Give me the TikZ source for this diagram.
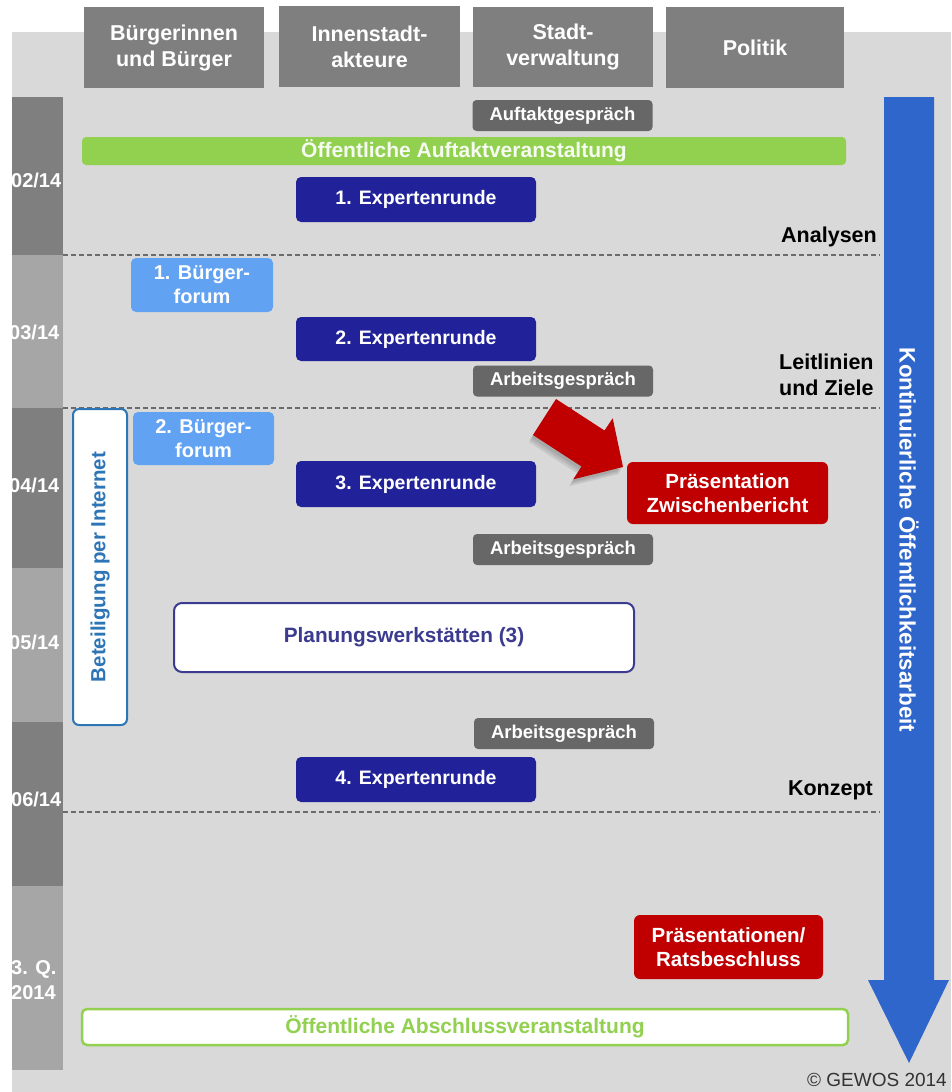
\documentclass[tikz,border=0pt]{standalone}
\usepackage{fontspec}
\setmainfont{Liberation Sans}
\usepackage{tikz}

\definecolor{panelgray}{HTML}{D9D9D9}
\definecolor{headgray}{HTML}{7F7F7F}
\definecolor{monthlight}{HTML}{A6A6A6}
\definecolor{talkgray}{HTML}{676767}
\definecolor{navy}{HTML}{21219A}
\definecolor{forumblue}{HTML}{62A2F2}
\definecolor{darkred}{HTML}{C00000}
\definecolor{arrowblue}{HTML}{2F66CC}
\definecolor{lgreen}{HTML}{92D050}
\definecolor{netblue}{HTML}{2E75B6}
\definecolor{planblue}{HTML}{3B3B8F}

\begin{document}
\begin{tikzpicture}[x=1pt,y=-1pt,inner sep=0pt,
  headbox/.style={rectangle,fill=headgray,text=white,align=center,font=\fontsize{21.5}{26}\selectfont\bfseries},
  talk/.style={rectangle,rounded corners=4pt,fill=talkgray,text=white,minimum width=180pt,minimum height=31pt,font=\fontsize{18.5}{20}\selectfont\bfseries},
  expert/.style={rectangle,rounded corners=5pt,fill=navy,text=white,minimum width=240pt,font=\fontsize{19.5}{22}\selectfont\bfseries},
  forum/.style={rectangle,rounded corners=5pt,fill=forumblue,text=white,align=center,font=\fontsize{20}{24}\selectfont\bfseries},
  redbox/.style={rectangle,rounded corners=6pt,fill=darkred,text=white,align=center,font=\fontsize{20.5}{24}\selectfont\bfseries},
  month/.style={anchor=west,text=white,align=left,font=\fontsize{20}{25}\selectfont\bfseries},
  phase/.style={text=black,align=left,font=\fontsize{21.5}{26}\selectfont\bfseries},
  border/.style={gray!85!black,line width=1.3pt,dash pattern=on 5pt off 3pt}]
\useasboundingbox (0,0) rectangle (951,1092);
%Background
\fill[panelgray] (12,32) rectangle (951,1092);
%Header
\node at (174,47.5) [headbox,minimum width=180pt,minimum height=81pt] (Head1) {Bürgerinnen\\und Bürger};
\node at (369.5,46.5) [headbox,minimum width=181pt,minimum height=81pt] (Head2) {Innenstadt-\\akteure};
\node at (563,47) [headbox,minimum width=180pt,minimum height=80pt] (Head3) {Stadt-\\verwaltung};
\node at (755,47.5) [headbox,minimum width=178pt,minimum height=81pt] (Head4) {Politik};
%Timeline
\fill[headgray] (12,97) rectangle (63,255);
\fill[monthlight] (12,255) rectangle (63,408);
\fill[headgray] (12,408) rectangle (63,568);
\fill[monthlight] (12,568) rectangle (63,722);
\fill[headgray] (12,722) rectangle (63,886);
\fill[monthlight] (12,886) rectangle (63,1070);
\node at (11,180) [month] (Month1) {02/14};
\node at (9,332) [month] (Month2) {03/14};
\node at (9,485) [month] (Month3) {04/14};
\node at (9,642) [month] (Month4) {05/14};
\node at (11,799) [month] (Month5) {06/14};
\node at (11,980) [month] (Month6) {3. Q.\\2014};
%Phase borders
\draw[border] (63,255) -- (880,255);
\draw[border] (63,408) -- (880,408);
\draw[border] (63,812) -- (880,812);
%Continuous arrow
\fill[arrowblue] (884,97) -- (934,97) -- (934,980) -- (949,980) -- (909,1063) -- (868,980) -- (884,980) -- cycle;
\node at (909,540) [rotate=-90,text=white,font=\fontsize{22.3}{26}\selectfont\bfseries] (ArrowText) {Kontinuierliche Öffentlichkeitsarbeit};
%Events
\node at (562.5,115.5) [talk] (Talk1) {Auftaktgespräch};
\node at (464,151) [rectangle,rounded corners=4pt,fill=lgreen,text=white!92!lgreen,minimum width=764pt,minimum height=28pt,font=\fontsize{21}{22}\selectfont\bfseries] (Kickoff) {Öffentliche Auftaktveranstaltung};
\node at (416,199.5) [expert,minimum height=45pt] (Expert1) {1. Expertenrunde};
\node at (202,285) [forum,minimum width=142pt,minimum height=54pt] (Forum1) {1. Bürger-\\forum};
\node at (416,339) [expert,minimum height=44pt] (Expert2) {2. Expertenrunde};
\node at (563,381) [talk] (Talk2) {Arbeitsgespräch};
\node at (100,567) [rectangle,rounded corners=6pt,draw=netblue,line width=2pt,fill=white,minimum width=54pt,minimum height=316pt] (Internet) {};
\node at (Internet.center) [rotate=90,text=netblue,font=\fontsize{20.5}{24}\selectfont\bfseries] (InternetText) {Beteiligung per Internet};
\node at (203.5,438.5) [forum,minimum width=141pt,minimum height=53pt] (Forum2) {2. Bürger-\\forum};
\node at (416,484) [expert,minimum height=46pt] (Expert3) {3. Expertenrunde};
\node at (727.5,493) [redbox,minimum width=201pt,minimum height=62pt] (Interim) {Präsentation\\Zwischenbericht};
\node at (563,549.5) [talk] (Talk3) {Arbeitsgespräch};
\node at (404,637.5) [rectangle,rounded corners=8pt,draw=planblue,line width=2pt,fill=white,text=planblue,minimum width=460pt,minimum height=69pt,font=\fontsize{20.8}{24}\selectfont\bfseries] (Workshops) {Planungswerkstätten (3)};
\node at (564,733.5) [talk] (Talk4) {Arbeitsgespräch};
\node at (416,779.5) [expert,minimum height=45pt] (Expert4) {4. Expertenrunde};
\node at (728.5,947) [redbox,minimum width=189pt,minimum height=64pt] (Decision) {Präsentationen/\\Ratsbeschluss};
\node at (465,1027) [rectangle,rounded corners=5pt,draw=lgreen,line width=2.5pt,fill=white,text=lgreen,minimum width=766pt,minimum height=36pt,font=\fontsize{21}{22}\selectfont\bfseries] (Closing) {Öffentliche Abschlussveranstaltung};
%Pointer with soft shadow
\foreach \d in {3,5,7}
  \fill[black,opacity=0.08,shift={(-0.6*\d,\d)}] (533,435) -- (556,399) -- (604.5,430.5) -- (612.7,418.3) -- (623,467) -- (573.3,479.3) -- (581.5,466.5) -- cycle;
\fill[darkred] (533,435) -- (556,399) -- (604.5,430.5) -- (612.7,418.3) -- (623,467) -- (573.3,479.3) -- (581.5,466.5) -- cycle;
%Phase labels
\node at (877,237) [phase,anchor=east] (Phase1) {Analysen};
\node at (779,375) [phase,anchor=west] (Phase2) {Leitlinien\\und Ziele};
\node at (873,790) [phase,anchor=east] (Phase3) {Konzept};
\node at (947,1080) [anchor=east,text=black!80,font=\fontsize{19}{22}\selectfont] (Copy) {© GEWOS 2014};
\end{tikzpicture}
\end{document}
